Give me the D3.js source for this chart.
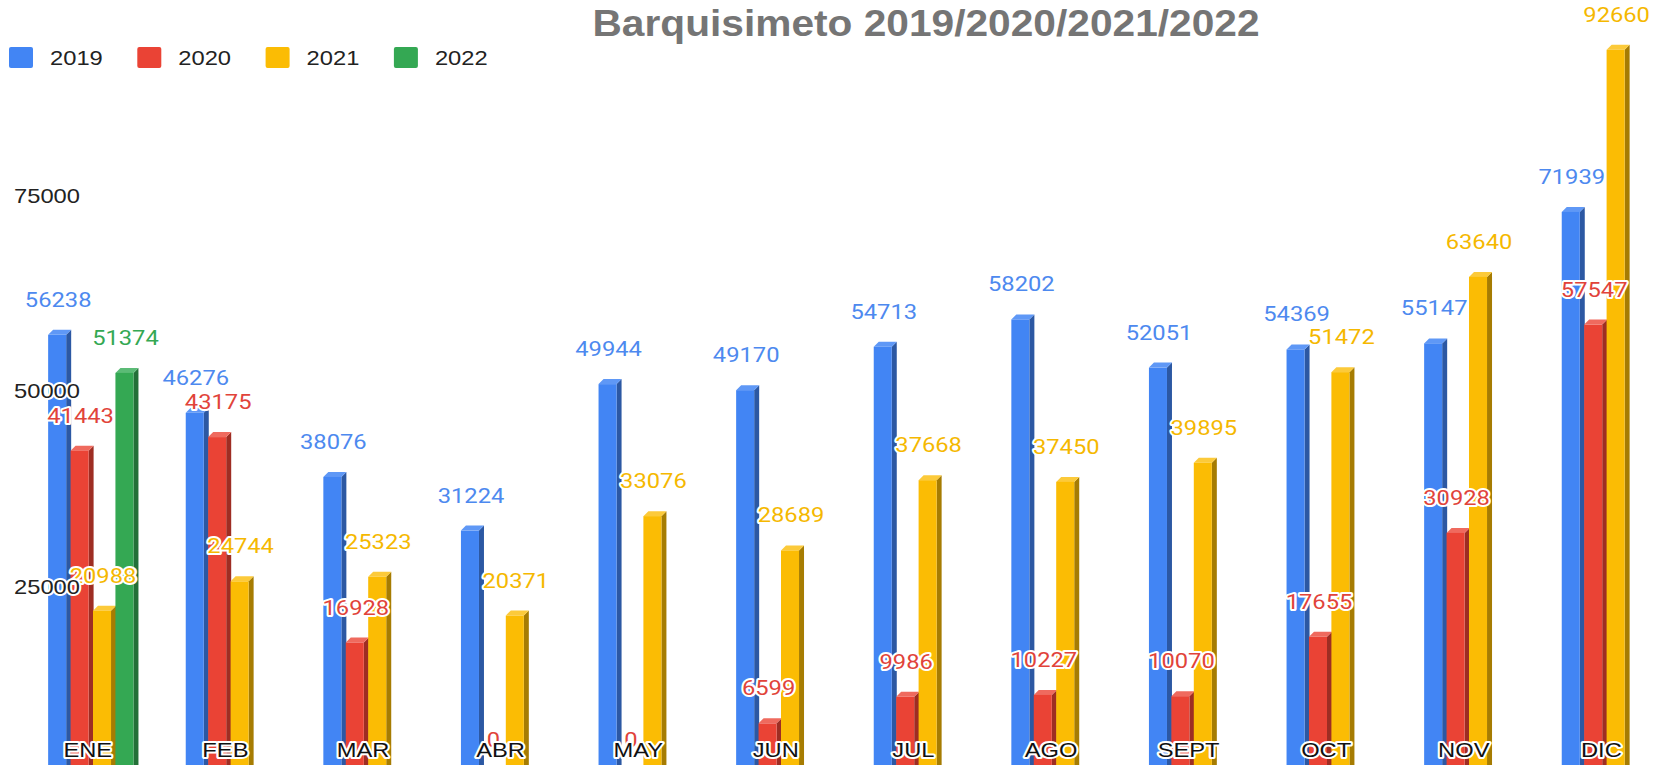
<!DOCTYPE html>
<html lang="es">
  <head>
    <meta charset="UTF-8" />
    <script src="https://d3js.org/d3.v7.min.js"></script>
    <title>Barquisimeto 2019/2020/2021/2022</title>
    <style>
      body { margin: 0; background: #fff; }
      svg { display: block; }
    </style>
  </head>
  <body>
    <div id="chart-container"></div>

    <script>
      // data
      const months = ["ENE", "FEB", "MAR", "ABR", "MAY", "JUN", "JUL", "AGO", "SEPT", "OCT", "NOV", "DIC"];
      const years = ["2019", "2020", "2021", "2022"];
      const v2019 = [56238, 46276, 38076, 31224, 49944, 49170, 54713, 58202, 52051, 54369, 55147, 71939];
      const v2020 = [41443, 43175, 16928, 0, 0, 6599, 9986, 10227, 10070, 17655, 30928, 57547];
      const v2021 = [20988, 24744, 25323, 20371, 33076, 28689, 37668, 37450, 39895, 51472, 63640, 92660];
      const v2022 = [51374, null, null, null, null, null, null, null, null, null, null, null];
      const yTicks = [25000, 50000, 75000];

      const seriesValues = [v2019, v2020, v2021, v2022];
      const colors = {
        "2019": { front: "#4285F4", side: "#2c58a3", top: "#5f98f6", label: "#4d89ef" },
        "2020": { front: "#EA4335", side: "#9e2d23", top: "#ef6a5e", label: "#e1433a" },
        "2021": { front: "#FBBC04", side: "#a67c02", top: "#fcca3a", label: "#f5b800" },
        "2022": { front: "#34A853", side: "#237038", top: "#5bbb76", label: "#34A853" },
      };

      const width = 1660;
      const height = 765;
      const SX = 1.13; // the source picture is a little stretched sideways
      const depth = 5;

      const rows = [];
      months.forEach((m, i) => {
        years.forEach((yr, j) => {
          const v = seriesValues[j][i];
          if (v !== null) rows.push({ month: m, year: yr, value: v });
        });
      });

      const svg = d3
        .select("#chart-container")
        .append("svg")
        .attr("width", width)
        .attr("height", height);

      const x0 = d3
        .scaleBand()
        .domain(months)
        .range([24.2, 24.2 + 137.6 * 12])
        .paddingInner(0.348)
        .paddingOuter(0.174);

      const x1 = d3.scaleBand().domain(years).range([0, x0.bandwidth()]);
      const barW = x1.bandwidth() - 4.4;

      const y = d3.scaleLinear().domain([0, 75000]).range([775, 188]);

      function halo(sel, w) {
        return sel
          .attr("paint-order", "stroke")
          .attr("stroke", "#fff")
          .attr("stroke-width", w)
          .attr("stroke-linejoin", "round");
      }

      // title
      svg
        .append("text")
        .attr("transform", `translate(926,36) scale(${SX},1)`)
        .attr("text-anchor", "middle")
        .style("font-family", '"Liberation Sans", Arial, sans-serif')
        .style("font-weight", "700")
        .style("font-size", "36px")
        .attr("fill", "#757575")
        .text("Barquisimeto 2019/2020/2021/2022");

      // legend
      const legend = svg
        .selectAll(".legend")
        .data(years)
        .join("g")
        .attr("class", "legend")
        .attr("transform", (d, i) => `translate(${9 + i * 128.3},47)`);
      legend
        .append("rect")
        .attr("width", 24)
        .attr("height", 21)
        .attr("rx", 2)
        .attr("fill", (d) => colors[d].front);
      legend
        .append("text")
        .attr("transform", `translate(41,18) scale(${SX},1)`)
        .style("font-family", '"Liberation Sans", Arial, sans-serif')
        .style("font-size", "21px")
        .attr("fill", "#222")
        .text((d) => d);

      // 3D bars
      const bars = svg
        .append("g")
        .selectAll("g")
        .data(rows)
        .join("g")
        .attr("transform", (d) => `translate(${x0(d.month) + x1(d.year)},0)`);

      bars
        .append("polygon")
        .attr("fill", (d) => colors[d.year].side)
        .attr("points", (d) => {
          const t = y(d.value), b = y(0);
          return `${barW},${t} ${barW + depth},${t - depth} ${barW + depth},${b} ${barW},${b}`;
        });
      bars
        .append("polygon")
        .attr("fill", (d) => colors[d.year].top)
        .attr("points", (d) => {
          const t = y(d.value);
          return `0,${t} ${depth},${t - depth} ${barW + depth},${t - depth} ${barW},${t}`;
        });
      bars
        .append("rect")
        .attr("x", 0)
        .attr("y", (d) => y(d.value))
        .attr("width", barW)
        .attr("height", (d) => y(0) - y(d.value))
        .attr("fill", (d) => colors[d.year].front);

      // value labels
      svg
        .append("g")
        .selectAll("text")
        .data(rows)
        .join("text")
        .attr("transform", (d) =>
          `translate(${x0(d.month) + x1(d.year) + barW / 2 + 1},${y(d.value) - 28}) scale(${SX},1)`)
        .attr("text-anchor", "middle")
        .style("font-family", "Roboto, sans-serif")
        .style("font-size", "21px")
        .attr("fill", (d) => colors[d.year].label)
        .text((d) => d.value)
        .call(halo, 4);

      // y axis labels, hanging just under their value
      const yAxis = svg
        .append("g")
        .attr("transform", "translate(80,0)")
        .call(d3.axisLeft(y).tickValues(yTicks).tickSize(0).tickPadding(0).tickFormat(d3.format("d")));
      yAxis.select(".domain").remove();
      yAxis
        .selectAll("text")
        .attr("dy", null)
        .attr("y", 14)
        .attr("transform", `scale(${SX},1)`)
        .style("font-family", '"Liberation Sans", Arial, sans-serif')
        .style("font-size", "21px")
        .attr("fill", "#222")
        .call(halo, 4);

      // month labels
      const xAxis = svg
        .append("g")
        .attr("transform", `translate(${-(depth + 4.4) / 2 - 0.5},757)`)
        .call(d3.axisBottom(x0).tickSize(0).tickPadding(0));
      xAxis.select(".domain").remove();
      xAxis
        .selectAll("text")
        .attr("dy", null)
        .attr("y", 0)
        .attr("transform", `scale(${SX},1)`)
        .style("font-family", '"Liberation Sans", Arial, sans-serif')
        .style("font-size", "21px")
        .attr("fill", "#111")
        .call(halo, 4);
    </script>
  </body>
</html>
